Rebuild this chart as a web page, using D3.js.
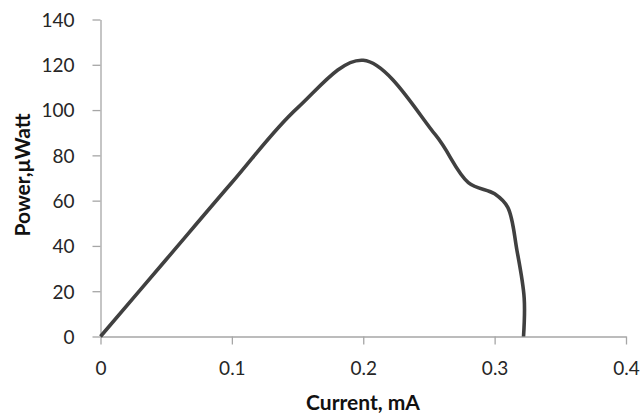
<!DOCTYPE html>
<html>
<head>
<meta charset="utf-8">
<script src="https://cdn.jsdelivr.net/npm/d3@7"></script>
<style>
  html, body { margin: 0; padding: 0; background: #fff; }
  svg text { font-family: Lato, "Open Sans", sans-serif; }
</style>
</head>
<body>
<svg id="chart" width="644" height="417"></svg>
<script>
// Data
const current = [0, 0.05, 0.10, 0.15, 0.20, 0.255, 0.28, 0.30, 0.31, 0.317, 0.3225, 0.322];
const power   = [0, 34,   68,   101,  122,  89,    68,   63,   57,   38,    17,     0];
const xTicks = [0, 0.1, 0.2, 0.3, 0.4];
const yTicks = [0, 20, 40, 60, 80, 100, 120, 140];
const xTitle = "Current, mA";
const yTitle = "Power,\u03BCWatt";

const svg = d3.select("#chart");
const x = d3.scaleLinear().domain([0, 0.4]).range([100.5, 626]);
const y = d3.scaleLinear().domain([0, 140]).range([336.5, 19.5]);

const axisColor = "#a6a6a6";

const xAxis = svg.append("g").attr("transform", `translate(0,${y(0)})`)
  .call(d3.axisBottom(x).tickValues(xTicks).tickSize(8).tickSizeOuter(0)
    .tickFormat(d => d === 0 ? "0" : d3.format(".1f")(d)));
const yAxis = svg.append("g").attr("transform", `translate(${x(0)},0)`)
  .call(d3.axisLeft(y).tickValues(yTicks).tickSize(8).tickSizeOuter(0).tickFormat(d3.format("d")));

[xAxis, yAxis].forEach(g => {
  g.select(".domain").attr("stroke", axisColor).attr("stroke-width", 1.3);
  g.selectAll(".tick line").attr("stroke", axisColor).attr("stroke-width", 1.3);
  g.selectAll(".tick text").attr("fill", "#262626").style("font-size", "19px");
});
xAxis.selectAll(".tick text").attr("dy", "0").attr("y", 38.5);
yAxis.selectAll(".tick text").attr("x", -26).attr("dy", "0.36em");

const pts = current.map((c, i) => [c, power[i]]);
const line = d3.line().x(d => x(d[0])).y(d => y(d[1])).curve(d3.curveCatmullRom.alpha(0.5));
svg.append("path").datum(pts).attr("d", line)
  .attr("fill", "none").attr("stroke", "#404040").attr("stroke-width", 3.6)
  .attr("stroke-linejoin", "round");

svg.append("text").attr("x", 363).attr("y", 410).attr("text-anchor", "middle")
  .style("font-size", "21px").style("font-weight", "bold").attr("fill", "#111").text(xTitle);
svg.append("text").attr("transform", "translate(30,175) rotate(-90)").attr("text-anchor", "middle")
  .style("font-size", "21px").style("font-weight", "bold").attr("fill", "#111").text(yTitle);
</script>
</body>
</html>
